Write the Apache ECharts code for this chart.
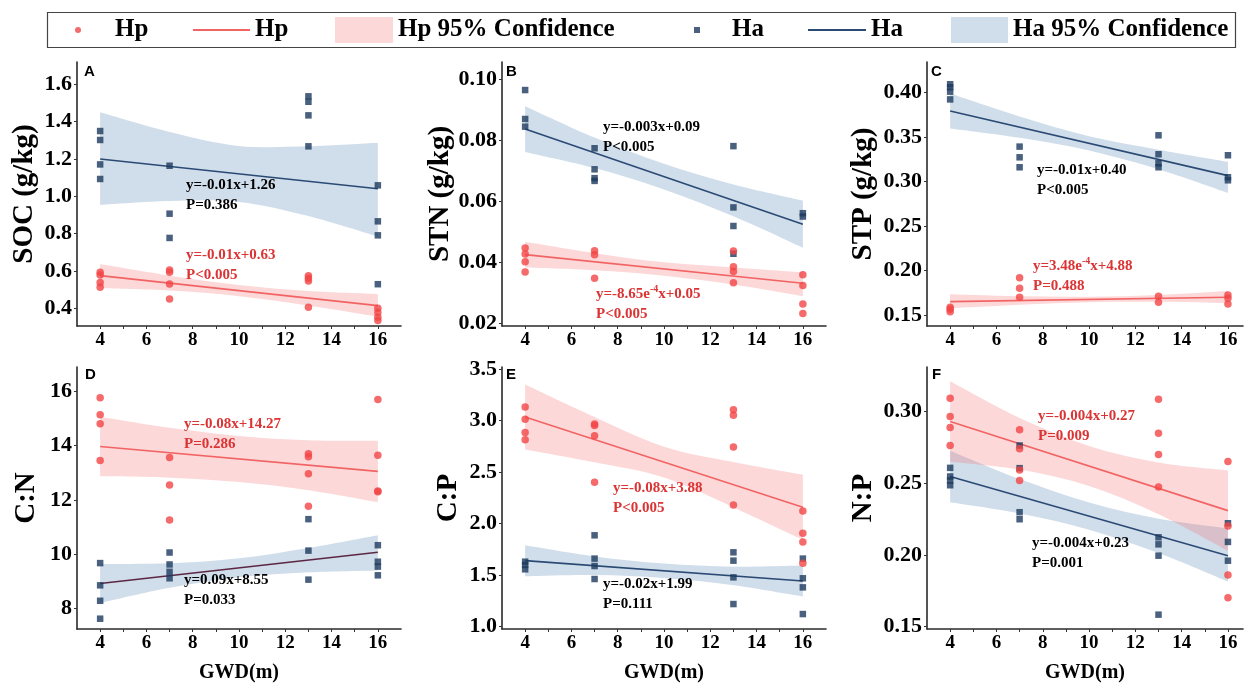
<!DOCTYPE html>
<html><head><meta charset="utf-8">
<script src="https://cdn.jsdelivr.net/npm/echarts@6/dist/echarts.min.js"></script>
<style>html,body{margin:0;padding:0;background:#fff}#c{width:1244px;height:686px}</style>
</head><body><div id="c"></div><script>
// ---------- DATA ----------
const xTickLabels = [4, 6, 8, 10, 12, 14, 16];
const xTickMarks = [4, 5, 6, 7, 8, 9, 10, 11, 12, 13, 14, 15, 16];
const bandX = [4, 7, 10, 13, 16];

// A  SOC
const socHp = [[4,0.593],[4,0.579],[4,0.538],[4,0.513],[7,0.605],[7,0.593],[7,0.530],[7,0.450],[13,0.575],[13,0.561],[13,0.546],[13,0.405],[16,0.400],[16,0.377],[16,0.352],[16,0.334]];
const socHa = [[4,1.350],[4,1.302],[4,1.171],[4,1.093],[7,1.164],[7,0.907],[7,0.777],[13,1.536],[13,1.507],[13,1.434],[13,1.268],[16,1.059],[16,0.866],[16,0.791],[16,0.529]];
const socHpFit = [[4,0.575],[16,0.414]];
const socHaFit = [[4,1.200],[16,1.041]];
const socHpUpper = [0.637,0.575,0.525,0.493,0.477];
const socHpLower = [0.507,0.495,0.465,0.415,0.355];
const socHaUpper = [1.450,1.345,1.270,1.268,1.287];
const socHaLower = [0.954,0.975,0.970,0.894,0.784];
const socTicks = [0.4,0.6,0.8,1.0,1.2,1.4,1.6];

// B  STN
const stnHp = [[4,0.0446],[4,0.0426],[4,0.0401],[4,0.0367],[7,0.0437],[7,0.0424],[7,0.0347],[13,0.0436],[13,0.0384],[13,0.0369],[13,0.0332],[16,0.0358],[16,0.0323],[16,0.0262],[16,0.0231]];
const stnHa = [[4,0.0964],[4,0.0869],[4,0.0844],[7,0.0773],[7,0.0704],[7,0.0675],[7,0.0666],[13,0.0780],[13,0.0579],[13,0.0518],[13,0.0427],[16,0.0560],[16,0.0549]];
const stnHpFit = [[4,0.0424],[16,0.0330]];
const stnHaFit = [[4,0.0836],[16,0.0524]];
const stnHpUpper = [0.0466,0.0429,0.0399,0.0382,0.0366];
const stnHpLower = [0.0382,0.0373,0.0355,0.0326,0.0288];
const stnHaUpper = [0.0911,0.0808,0.0722,0.0654,0.0601];
const stnHaLower = [0.0761,0.0708,0.0638,0.0550,0.0447];
const stnTicks = [0.02,0.04,0.06,0.08,0.10];

// C  STP
const stpHp = [[4,0.1586],[4,0.1564],[4,0.1537],[7,0.1919],[7,0.1800],[7,0.1698],[13,0.1710],[13,0.1642],[16,0.1725],[16,0.1687],[16,0.1624]];
const stpHa = [[4,0.4090],[4,0.4056],[4,0.4007],[4,0.3920],[7,0.3390],[7,0.3270],[7,0.3158],[13,0.3517],[13,0.3304],[13,0.3203],[13,0.3158],[16,0.3293],[16,0.3046],[16,0.3012]];
const stpHpFit = [[4,0.1650],[16,0.1698]];
const stpHaFit = [[4,0.3790],[16,0.3064]];
const stpHpUpper = [0.1732,0.1710,0.1705,0.1725,0.1770];
const stpHpLower = [0.1575,0.1614,0.1643,0.1647,0.1630];
const stpHaUpper = [0.3986,0.3729,0.3507,0.3356,0.3220];
const stpHaLower = [0.3594,0.3489,0.3347,0.3136,0.2870];
const stpTicks = [0.15,0.20,0.25,0.30,0.35,0.40];

// D  C:N
const cnHp = [[4,15.77],[4,15.14],[4,14.81],[4,13.45],[7,13.56],[7,12.55],[7,11.26],[13,13.70],[13,13.59],[13,12.96],[13,11.77],[16,15.70],[16,13.65],[16,12.33],[16,12.30]];
const cnHa = [[4,9.67],[4,8.85],[4,8.28],[4,7.62],[7,10.06],[7,9.62],[7,9.35],[7,9.11],[13,11.29],[13,10.13],[13,9.06],[16,10.33],[16,9.72],[16,9.54],[16,9.22]];
const cnHpFit = [[4,13.97],[16,13.05]];
const cnHaFit = [[4,8.92],[16,10.07]];
const cnHpUpper = [15.07,14.66,14.36,14.20,14.18];
const cnHpLower = [12.87,12.82,12.66,12.36,11.92];
const cnHaUpper = [9.64,9.66,9.85,10.23,10.70];
const cnHaLower = [8.20,8.76,9.15,9.33,9.40];
const cnTicks = [8,10,12,14,16];

// E  C:P
const cpHp = [[4,3.131],[4,3.014],[4,2.885],[4,2.813],[7,2.966],[7,2.953],[7,2.852],[7,2.402],[13,3.105],[13,3.053],[13,2.745],[13,2.182],[16,2.124],[16,1.907],[16,1.823],[16,1.615]];
const cpHa = [[4,1.631],[4,1.599],[4,1.557],[7,1.887],[7,1.661],[7,1.589],[7,1.463],[13,1.722],[13,1.641],[13,1.479],[13,1.220],[16,1.661],[16,1.470],[16,1.382],[16,1.123]];
const cpHpFit = [[4,3.034],[16,2.159]];
const cpHaFit = [[4,1.641],[16,1.444]];
const cpHpUpper = [3.350,3.035,2.747,2.598,2.474];
const cpHpLower = [2.720,2.595,2.447,2.158,1.845];
const cpHaUpper = [1.790,1.682,1.613,1.583,1.594];
const cpHaLower = [1.490,1.502,1.473,1.403,1.294];
const cpTicks = [1.0,1.5,2.0,2.5,3.0,3.5];

// F  N:P
const npHp = [[4,0.3093],[4,0.2965],[4,0.2888],[4,0.2763],[7,0.2872],[7,0.2740],[7,0.2593],[7,0.2519],[13,0.3086],[13,0.2849],[13,0.2700],[13,0.2474],[16,0.2651],[16,0.2202],[16,0.1860],[16,0.1702]];
const npHa = [[4,0.2607],[4,0.2547],[4,0.2519],[4,0.2486],[7,0.2763],[7,0.2605],[7,0.2298],[7,0.2249],[13,0.2123],[13,0.2074],[13,0.1995],[13,0.1584],[16,0.2221],[16,0.2091],[16,0.1960]];
const npHpFit = [[4,0.2930],[16,0.2309]];
const npHaFit = [[4,0.2547],[16,0.1995]];
const npHpUpper = [0.3210,0.2955,0.2760,0.2644,0.2589];
const npHpLower = [0.2650,0.2595,0.2480,0.2284,0.2029];
const npHaUpper = [0.2727,0.2529,0.2366,0.2253,0.2186];
const npHaLower = [0.2367,0.2289,0.2176,0.2013,0.1814];
const npTicks = [0.15,0.20,0.25,0.30];

// texts
const yTitles = ['SOC (g/kg)', 'STN (g/kg)', 'STP (g/kg)', 'C:N', 'C:P', 'N:P'];
const panelLetters = ['A', 'B', 'C', 'D', 'E', 'F'];
const hpEquations = ['{n|y=-0.01x+0.63}\n{n|P<0.005}', '{n|y=-8.65e}{s|-4}{n|x+0.05}\n{n|P<0.005}', '{n|y=3.48e}{s|-4}{n|x+4.88}\n{n|P=0.488}', '{n|y=-0.08x+14.27}\n{n|P=0.286}', '{n|y=-0.08x+3.88}\n{n|P<0.005}', '{n|y=-0.004x+0.27}\n{n|P=0.009}'];
const haEquations = ['{n|y=-0.01x+1.26}\n{n|P=0.386}', '{n|y=-0.003x+0.09}\n{n|P<0.005}', '{n|y=-0.01x+0.40}\n{n|P<0.005}', '{n|y=0.09x+8.55}\n{n|P=0.033}', '{n|y=-0.02x+1.99}\n{n|P=0.111}', '{n|y=-0.004x+0.23}\n{n|P=0.001}'];

// ---------- STYLE / LAYOUT ----------
const SERIF = '"Liberation Serif","Times New Roman",serif';
const HP_PT = '#F24545', HP_LINE = '#F26464', HP_BAND = 'rgba(244,110,115,0.27)';
const HA_PT = '#1B3A5E', HA_LINE = '#2A4A74', HA_BAND = 'rgba(40,100,160,0.22)';
const HP_TEXT = '#DB3434';

const panels = [
  {hp:socHp, ha:socHa, hpFit:socHpFit, haFit:socHaFit, hpU:socHpUpper, hpL:socHpLower, haU:socHaUpper, haL:socHaLower, ticks:socTicks,
   grid:{left:77, top:62, width:324, height:264}, xMax:17, yMin:0.305, yMax:1.72, dec:1, nameGap:38,
   letterPos:[84,64], hpTxt:[186,245], haTxt:[186,175]},
  {hp:stnHp, ha:stnHa, hpFit:stnHpFit, haFit:stnHaFit, hpU:stnHpUpper, hpL:stnHpLower, haU:stnHaUpper, haL:stnHaLower, ticks:stnTicks,
   grid:{left:502, top:62, width:324, height:264}, xMax:17, yMin:0.019, yMax:0.1056, dec:2, nameGap:37,
   letterPos:[506,64], hpTxt:[596,284], haTxt:[603,117]},
  {hp:stpHp, ha:stpHa, hpFit:stpHpFit, haFit:stpHaFit, hpU:stpHpUpper, hpL:stpHpLower, haU:stpHaUpper, haL:stpHaLower, ticks:stpTicks,
   grid:{left:927, top:62, width:316, height:264}, xMax:16.65, yMin:0.1376, yMax:0.434, dec:2, nameGap:49,
   letterPos:[931,64], hpTxt:[1033,256], haTxt:[1037,160]},
  {hp:cnHp, ha:cnHa, hpFit:cnHpFit, haFit:cnHaFit, hpU:cnHpUpper, hpL:cnHpLower, haU:cnHaUpper, haL:cnHaLower, ticks:cnTicks,
   grid:{left:77, top:367, width:324, height:262}, xMax:17, yMin:7.24, yMax:16.9, dec:0, nameGap:36, haLine:'#5C2744',
   letterPos:[85,367], hpTxt:[184,414], haTxt:[184,570]},
  {hp:cpHp, ha:cpHa, hpFit:cpHpFit, haFit:cpHaFit, hpU:cpHpUpper, hpL:cpHpLower, haU:cpHaUpper, haL:cpHaLower, ticks:cpTicks,
   grid:{left:502, top:367, width:324, height:262}, xMax:17, yMin:0.978, yMax:3.52, dec:1, nameGap:39,
   letterPos:[506,367], hpTxt:[613,478], haTxt:[603,574]},
  {hp:npHp, ha:npHa, hpFit:npHpFit, haFit:npHaFit, hpU:npHpUpper, hpL:npHpLower, haU:npHaUpper, haL:npHaLower, ticks:npTicks,
   grid:{left:927, top:367, width:316, height:262}, xMax:16.65, yMin:0.1484, yMax:0.331, dec:2, nameGap:49,
   letterPos:[932,367], hpTxt:[1038,406], haTxt:[1032,533]}
];

// smooth path (Catmull-Rom -> cubic Bezier) through pixel points
function curveSeg(pts, startWithMove) {
  let d = startWithMove ? 'M' + pts[0][0] + ',' + pts[0][1] : 'L' + pts[0][0] + ',' + pts[0][1];
  for (let k = 0; k < pts.length - 1; k++) {
    const p0 = pts[Math.max(k - 1, 0)], p1 = pts[k], p2 = pts[k + 1], p3 = pts[Math.min(k + 2, pts.length - 1)];
    const c1 = [p1[0] + (p2[0] - p0[0]) / 6, p1[1] + (p2[1] - p0[1]) / 6];
    const c2 = [p2[0] - (p3[0] - p1[0]) / 6, p2[1] - (p3[1] - p1[1]) / 6];
    d += 'C' + c1[0] + ',' + c1[1] + ',' + c2[0] + ',' + c2[1] + ',' + p2[0] + ',' + p2[1];
  }
  return d;
}
function bandRenderer(lower, upper, color) {
  return function (params, api) {
    if (params.dataIndex !== 0) return null;
    const up = bandX.map((x, k) => api.coord([x, upper[k]]));
    const lo = bandX.map((x, k) => api.coord([x, lower[k]])).reverse();
    const d = curveSeg(up, true) + curveSeg(lo, false) + 'Z';
    return {type:'path', shape:{pathData:d}, style:{fill:color, stroke:null}, silent:true};
  };
}
function zip(xs, ys) { return xs.map((x, i) => [x, ys[i]]); }

const grids = [], xAxes = [], yAxes = [], series = [], graphics = [];
const axisLineStyle = {color:'#2a2a2a', width:1.6};

panels.forEach((p, i) => {
  grids.push(Object.assign({outerBoundsMode:'none', containLabel:false}, p.grid));
  const bottomRow = i >= 3;
  xAxes.push({
    type:'value', gridIndex:i, min:3, max:p.xMax,
    axisLine:{show:true, onZero:false, lineStyle:axisLineStyle},
    axisTick:{show:true, customValues:xTickMarks, length:3, lineStyle:{color:'#333', width:1}},
    axisLabel:{customValues:xTickLabels, margin:5, fontFamily:SERIF, fontWeight:'bold', fontSize:19, color:'#000'},
    splitLine:{show:false},
    name: bottomRow ? 'GWD(m)' : '', nameLocation:'middle', nameGap:34,
    nameTextStyle:{fontFamily:SERIF, fontWeight:'bold', fontSize:20, color:'#000'}
  });
  yAxes.push({
    type:'value', gridIndex:i, min:p.yMin, max:p.yMax,
    axisLine:{show:true, onZero:false, lineStyle:axisLineStyle},
    axisTick:{show:true, customValues:p.ticks, length:3, lineStyle:{color:'#333', width:1}},
    axisLabel:{customValues:p.ticks, margin:5, formatter:(v) => Number(v).toFixed(p.dec),
      fontFamily:SERIF, fontWeight:'bold', fontSize:22, color:'#000'},
    splitLine:{show:false},
    name:yTitles[i], nameLocation:'middle', nameGap:p.nameGap,
    nameTextStyle:{fontFamily:SERIF, fontWeight:'bold', fontSize:29, color:'#000'}
  });
  const ax = {xAxisIndex:i, yAxisIndex:i};
  // confidence bands (drawn from the read lower / upper limits)
  series.push(Object.assign({type:'custom', name:'Ha 95% Confidence', data:zip(bandX, p.haL),
    renderItem:bandRenderer(p.haL, p.haU, HA_BAND), itemStyle:{color:HA_BAND}, silent:true, z:1, clip:true}, ax));
  series.push(Object.assign({type:'custom', name:'Hp 95% Confidence', data:zip(bandX, p.hpL),
    renderItem:bandRenderer(p.hpL, p.hpU, HP_BAND), itemStyle:{color:HP_BAND}, silent:true, z:1, clip:true}, ax));
  // regression lines
  const haLineColor = p.haLine || HA_LINE;
  series.push(Object.assign({type:'line', name:'Ha line', data:p.haFit, symbol:'none', silent:true,
    color:HA_LINE, lineStyle:{width:1.6, color:haLineColor}, z:2}, ax));
  series.push(Object.assign({type:'line', name:'Hp line', data:p.hpFit, symbol:'none', silent:true,
    color:HP_LINE, lineStyle:{width:1.6, color:HP_LINE}, z:2}, ax));
  // points
  series.push(Object.assign({type:'scatter', name:'Ha', data:p.ha, symbol:'rect', symbolSize:6.5,
    itemStyle:{color:HA_PT}, z:3}, ax));
  series.push(Object.assign({type:'scatter', name:'Hp', data:p.hp, symbol:'circle', symbolSize:7.5,
    itemStyle:{color:HP_PT}, z:3}, ax));

  // texts
  const rich = (c) => ({
    n:{fontFamily:SERIF, fontWeight:'bold', fontSize:15, lineHeight:20, fill:c, color:c},
    s:{fontFamily:SERIF, fontWeight:'bold', fontSize:10, lineHeight:10, verticalAlign:'top', fill:c, color:c}
  });
  graphics.push({type:'text', x:p.hpTxt[0], y:p.hpTxt[1], z:10,
    style:{text:hpEquations[i], rich:rich(HP_TEXT), fill:HP_TEXT}});
  graphics.push({type:'text', x:p.haTxt[0], y:p.haTxt[1], z:10,
    style:{text:haEquations[i], rich:rich('#000'), fill:'#000'}});
  graphics.push({type:'text', x:p.letterPos[0], y:p.letterPos[1], z:10,
    style:{text:panelLetters[i], font:'bold 15px "Liberation Sans", Arial, sans-serif', fill:'#000'}});
});

// legend box
graphics.push({type:'rect', z:0, shape:{x:47.5, y:12.5, width:1188, height:35},
  style:{fill:'none', stroke:'#444', lineWidth:1.2}});

const LINE_ICON = 'path://M0,0h60v2h-60z';
const SQ_ICON = 'path://M0,0h10v10h-10z';
const legendBase = {padding:0, top:16, selectedMode:false, symbolKeepAspect:true,
  itemStyle:{borderWidth:0},
  textStyle:{fontFamily:SERIF, fontWeight:'bold', fontSize:25, lineHeight:28, color:'#000'}};
const legends = [
  {data:[{name:'Hp', icon:'circle'}], left:75, itemWidth:64, itemHeight:6},
  {data:[{name:'Hp line', icon:LINE_ICON}], formatter:'Hp', left:193, itemWidth:57, itemHeight:6},
  {data:[{name:'Hp 95% Confidence', icon:'rect'}], left:335, itemWidth:58, itemHeight:26},
  {data:[{name:'Ha', icon:SQ_ICON}], left:694, itemWidth:60, itemHeight:6},
  {data:[{name:'Ha line', icon:LINE_ICON}], formatter:'Ha', left:808, itemWidth:58, itemHeight:6},
  {data:[{name:'Ha 95% Confidence', icon:'rect'}], left:951, itemWidth:57, itemHeight:26}
].map(l => Object.assign({}, legendBase, l));

const chart = echarts.init(document.getElementById('c'), null, {renderer:'canvas'});
chart.setOption({
  animation:false,
  backgroundColor:'#fff',
  legend:legends,
  grid:grids,
  xAxis:xAxes,
  yAxis:yAxes,
  series:series,
  graphic:graphics
});
</script></body></html>
